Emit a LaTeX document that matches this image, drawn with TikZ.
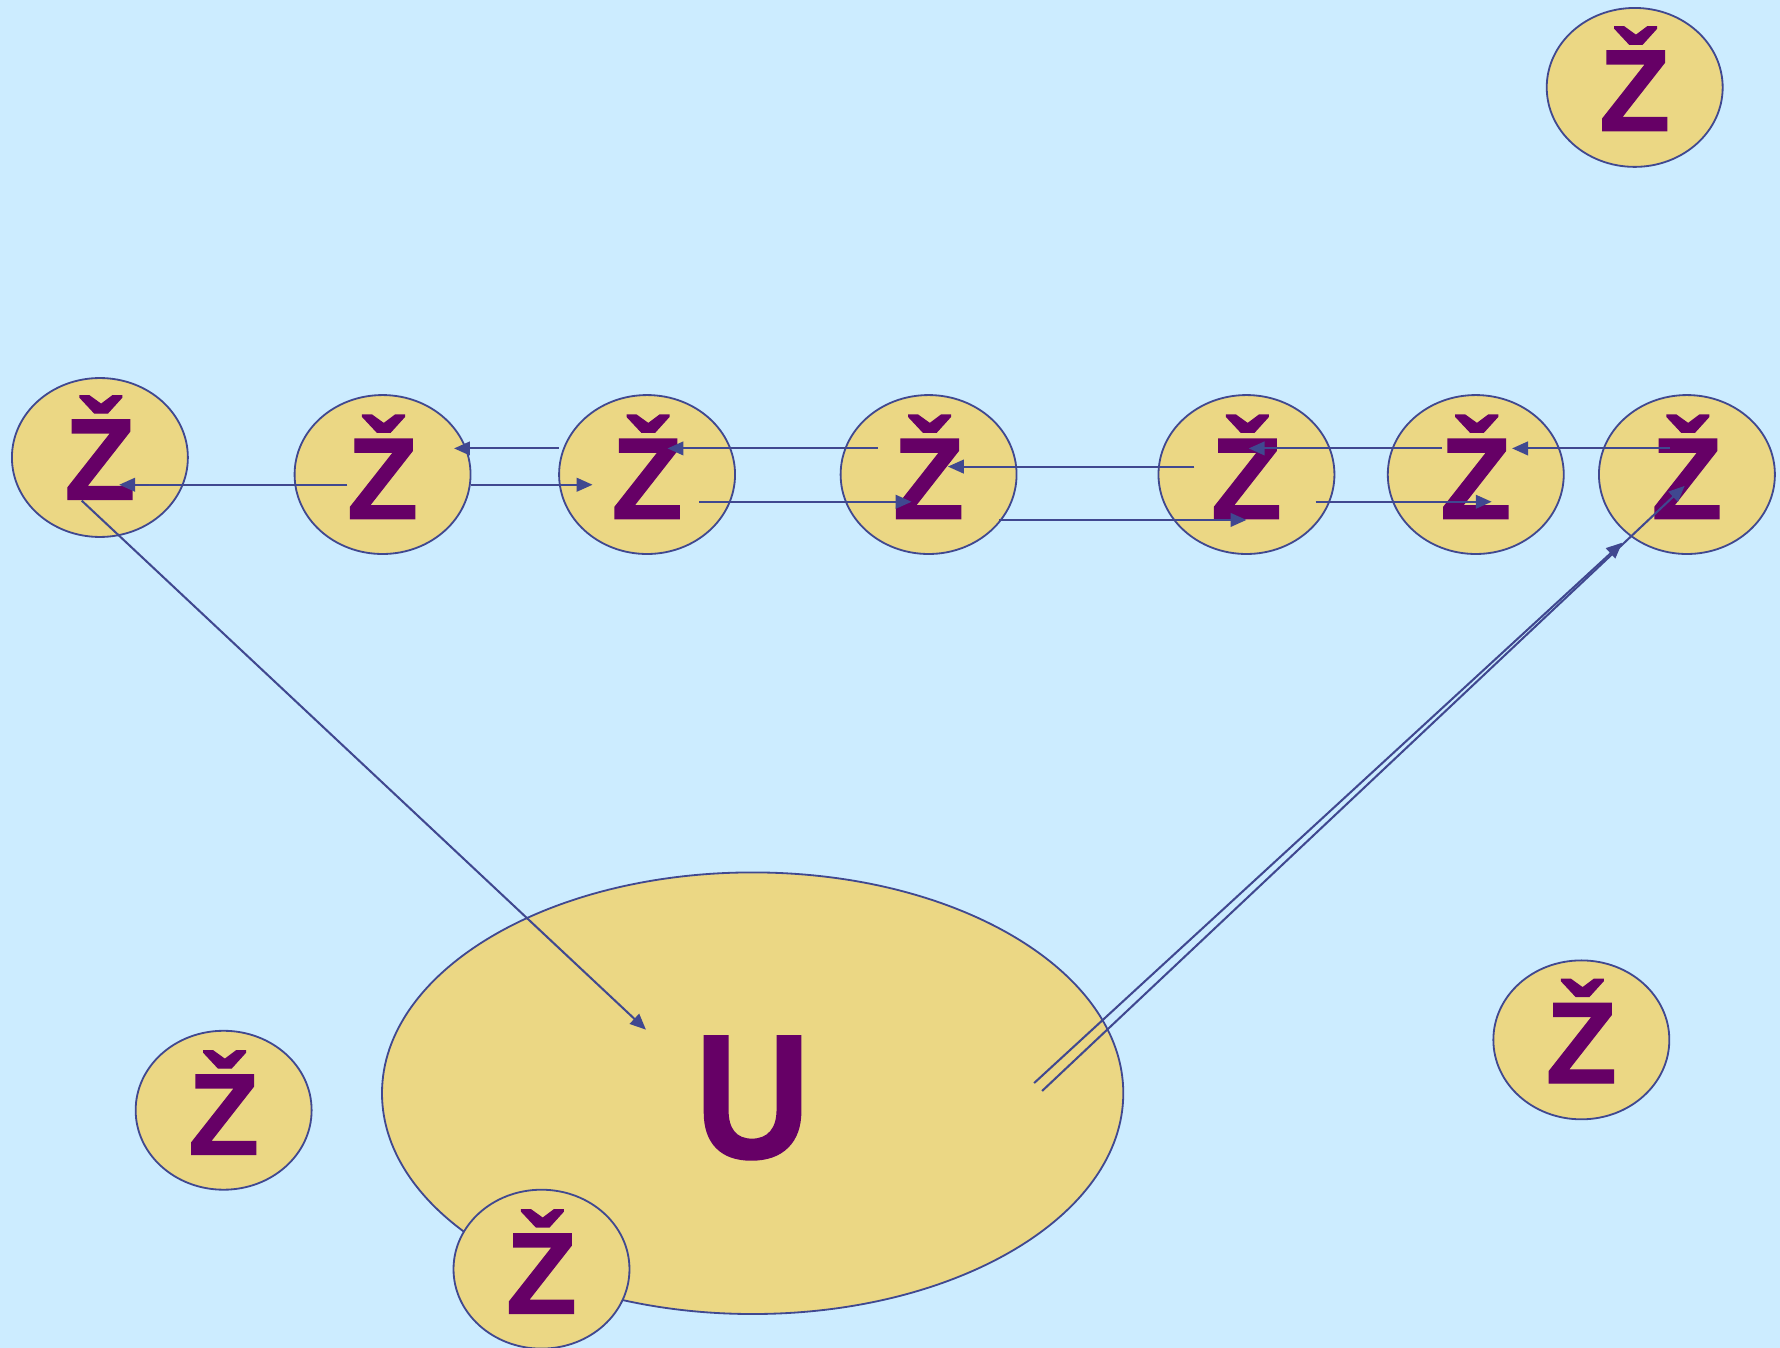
\documentclass[tikz,border=0pt]{standalone}
\usepackage{fontspec}
\setmainfont{Liberation Sans}
\newfontfamily\zfont[FakeBold=1.2]{Liberation Sans Bold}
\usetikzlibrary{shapes.geometric,arrows.meta,calc}
\definecolor{bg}{HTML}{CCECFF}
\definecolor{efill}{HTML}{EBD784}
\definecolor{edgec}{HTML}{404890}
\definecolor{txt}{HTML}{660066}
\begin{document}
\begin{tikzpicture}[x=1pt,y=-1pt,
  ell/.style={ellipse, draw=edgec, fill=efill, line width=1.6pt, minimum width=155pt, minimum height=140pt, inner sep=0pt},
  zl/.style={anchor=base, text=txt, font=\fontsize{102}{102}\selectfont\zfont, inner sep=0pt},
  arr/.style={draw=edgec, line width=1.8pt, -{Triangle[length=14pt,width=12pt]}}]
\fill[bg] (0,0) rectangle (1568,1187);
\useasboundingbox (0,0) rectangle (1568,1187);
% ellipses
\node[ell] (tr) at (1440,77) {};
\node[ell] (n1) at (88,403) {};
\node[ell] (n2) at (337,418) {};
\node[ell] (n3) at (570,418) {};
\node[ell] (n4) at (818,418) {};
\node[ell] (n5) at (1098,418) {};
\node[ell] (n6) at (1300,418) {};
\node[ell] (n7) at (1486,418) {};
\node[ell, minimum width=653pt, minimum height=389pt] (big) at (663,963) {};
\node[ell] (bl) at (197,978) {};
\node[ell] (bm) at (477,1118) {};
\node[ell] (br) at (1393,916) {};
% labels
\node[zl] (ztr) at ($(tr.center)+(0,38)$) {Ž};
\node[zl] (z1) at ($(n1.center)+(0,37)$) {Ž};
\node[zl] (z2) at ($(n2.center)+(0,39)$) {Ž};
\node[zl] (z3) at ($(n3.center)+(0,39)$) {Ž};
\node[zl] (z4) at ($(n4.center)+(0,39)$) {Ž};
\node[zl] (z5) at ($(n5.center)+(0,39)$) {Ž};
\node[zl] (z6) at ($(n6.center)+(0,39)$) {Ž};
\node[zl] (z7) at ($(n7.center)+(0,39)$) {Ž};
\node[zl, font=\fontsize{156}{156}\selectfont\zfont, xscale=0.9, transform shape] (zbig) at ($(big.center)+(0,57)$) {U};
\node[zl] (zbl) at ($(bl.center)+(0,39)$) {Ž};
\node[zl] (zbm) at ($(bm.center)+(0,39)$) {Ž};
\node[zl] (zbr) at ($(br.center)+(0,38)$) {Ž};
% row arrows
\draw[arr] ($(n2.center)+(-31,9)$) -- ($(n1.center)+(17,24)$);
\draw[arr] ($(n2.center)+(78,9)$) -- ($(n3.center)+(-48,9)$);
\draw[arr] ($(n3.center)+(-78,-23)$) -- ($(n2.center)+(63,-23)$);
\draw[arr] ($(n4.center)+(-45,-23)$) -- ($(n3.center)+(18,-23)$);
\draw[arr] ($(n3.center)+(46,24)$) -- ($(n4.center)+(-15,24)$);
\draw[arr] ($(n5.center)+(-46,-7)$) -- ($(n4.center)+(17,-7)$);
\draw[arr] ($(n4.center)+(62,40)$) -- ($(n5.center)+(0,40)$);
\draw[arr] ($(n6.center)+(-30,-23)$) -- ($(n5.center)+(2,-23)$);
\draw[arr] ($(n5.center)+(61,24)$) -- ($(n6.center)+(14,24)$);
\draw[arr] ($(n7.center)+(-15,-23)$) -- ($(n6.center)+(32,-23)$);
% diagonals
\draw[arr] ($(n1.center)+(-16,38)$) -- ($(big.center)+(-94,-56)$);
\draw[arr] ($(big.center)+(248,-9)$) -- ($(n7.center)+(-57,60)$);
\draw[arr] ($(big.center)+(255,-2)$) -- ($(n7.center)+(-2,10)$);
\end{tikzpicture}
\end{document}
